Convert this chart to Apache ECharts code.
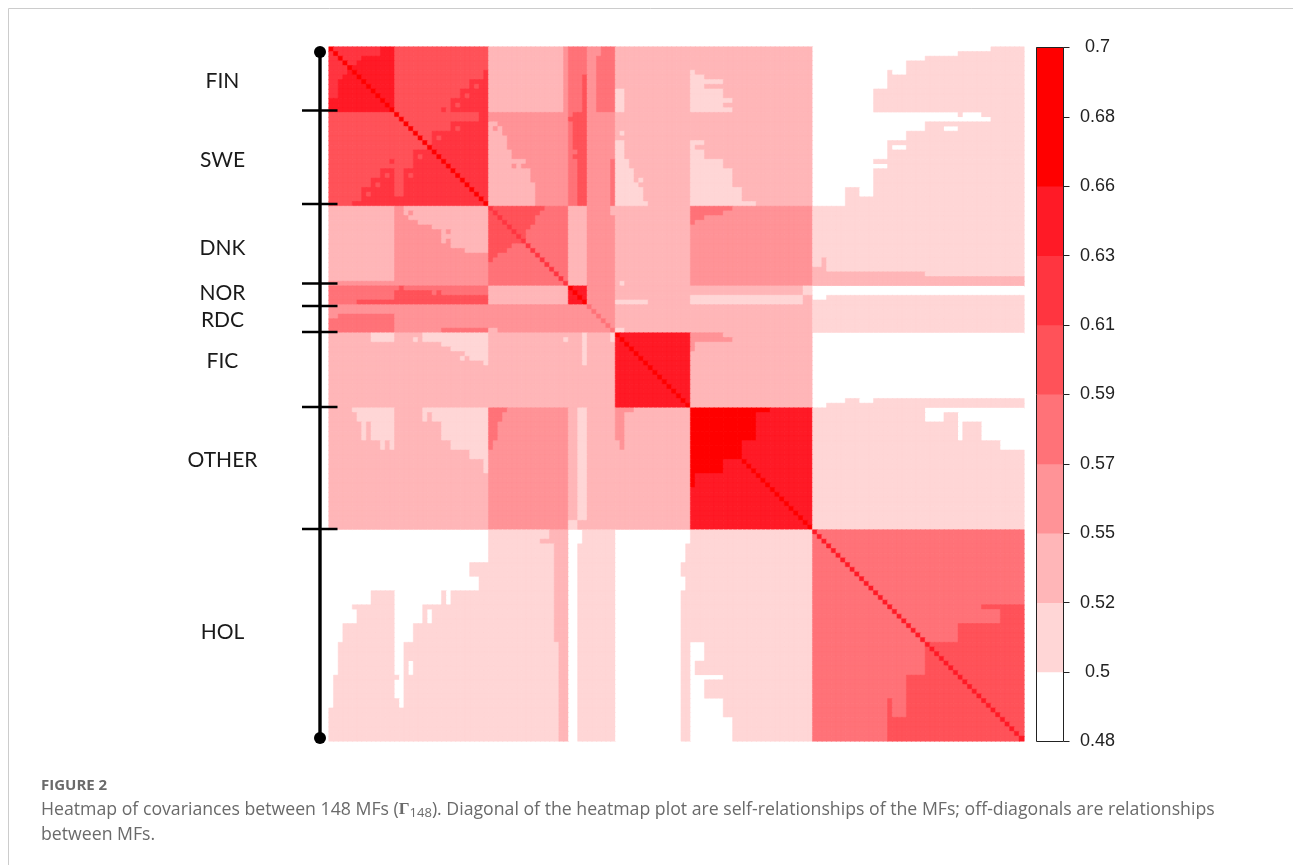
<!DOCTYPE html>
<html>
<head>
<meta charset="utf-8">
<title>Heatmap of covariances</title>
<style>html,body{margin:0;padding:0;background:#fff;}#c{width:1293px;height:865px;}</style>
<script src="https://cdn.jsdelivr.net/npm/echarts@6/dist/echarts.min.js"></script>
</head>
<body>
<div id="c"></div>
<script>
// ---- data ----
const groupNames = ['FIN','SWE','DNK','NOR','RDC','FIC','OTHER','HOL'];
const groupSizes = [14,20,17,4,6,16,26,45];
const tickLabels = ['0.48','0.5','0.52','0.55','0.57','0.59','0.61','0.63','0.66','0.68','0.7'];
const levelValues = [0.49,0.51,0.535,0.56,0.58,0.60,0.62,0.645,0.67,0.69];
const levelColors = ['#ffffff','#ffd6d6','#ffb6b8','#ff9397','#ff7278','#ff5259','#ff3540','#ff1a26','#ff0000','#ff0000'];
// colour level of every pair of groups
const groupLevels = [
 [7,5,2,4,3,2,2,0],
 [5,6,3,4,3,2,2,1],
 [2,3,4,2,3,2,3,1],
 [4,4,2,7,3,2,2,1],
 [3,3,3,3,3,2,2,1],
 [2,2,2,2,2,7,2,0],
 [2,2,3,2,2,2,7,1],
 [0,1,1,1,1,0,1,4]
];
const diagonalLevels = [9,9,6,9,4,9,9,7];
// [firstRow,lastRow,firstCol,lastCol,level], mirrored over the diagonal
const finPatches = [
 [0,0,1,10,6],[1,1,2,10,6],[2,2,3,6,6],[3,3,4,5,6],
 [5,6,33,33,6],[7,13,30,33,6],[8,8,31,31,5],[9,13,28,29,6],[10,10,29,29,5],
 [11,13,26,27,6],[12,12,27,27,5],[13,13,24,24,6],
 [0,13,50,50,3],[6,13,54,54,5],[1,13,58,60,4],[2,13,57,57,4],[0,0,58,60,4],
 [9,13,61,62,1],
 [5,5,77,77,1],[6,6,77,79,1],[7,7,77,83,1],[8,8,77,79,1],[9,10,77,83,1],
 [11,11,77,85,1],[12,12,77,83,1],[13,13,77,85,1],
 [0,0,141,147,1],[1,1,134,147,1],[2,2,127,147,1],[3,4,123,147,1],[5,5,119,119,1],
 [5,5,123,147,1],[6,8,119,147,1],[9,13,116,147,1]
];
const swePatches = [
 [14,14,15,31,5],[15,15,16,31,5],[16,16,17,25,5],[17,17,18,25,5],[17,17,27,27,5],
 [18,18,19,21,5],[19,19,20,21,5],[19,19,23,23,5],[20,20,21,21,5],
 [16,16,34,35,2],[17,17,34,34,2],[17,17,36,36,2],[18,18,34,36,2],[19,21,34,37,2],
 [22,23,34,38,2],[24,24,34,41,2],[25,25,34,38,2],[25,25,40,40,2],[26,28,34,42,2],
 [29,32,34,43,2],[33,33,34,43,2],
 [14,33,53,54,5],[14,21,52,52,5],[23,23,52,52,5],[15,15,51,51,5],
 [24,33,60,60,4],
 [18,18,62,62,1],[20,23,61,62,1],[24,25,61,63,1],[26,27,61,64,1],[28,28,61,64,1],
 [28,28,66,66,1],[29,29,61,65,1],[30,32,61,66,1],[33,33,61,67,1],
 [20,20,77,79,1],[21,21,77,77,1],[22,23,77,79,1],[24,25,77,83,1],[26,29,77,85,1],
 [30,32,77,87,1],[33,33,77,90,1],
 [14,14,103,133,0],[14,14,135,138,0],[15,15,103,140,0],
 [16,17,103,126,0],[17,17,131,133,0],[18,19,103,122,0],[20,23,103,118,0],
 [21,21,120,122,0],[24,24,103,115,0],[25,25,103,118,0],[26,29,103,115,0],
 [30,31,103,109,0],[30,31,113,115,0],[32,33,103,109,0]
];
const dnkPatches = [
 [34,34,35,45,5],[35,35,36,44,5],[36,36,37,43,5],[37,37,38,43,5],[38,38,39,42,5],
 [39,39,40,41,5],[40,40,41,41,5],
 [34,35,60,60,2],[50,50,62,62,1],
 [34,34,77,85,4],[35,35,77,83,4],[36,36,77,79,4],[37,37,77,77,4],
 [47,50,103,104,2],[45,50,105,105,2],[48,50,106,126,2],[49,50,127,147,2]
];
const norPatches = [
 [54,54,61,67,1],[53,54,77,100,1],[51,52,101,102,1],
 [51,52,103,147,0],[53,53,103,105,0]
];
const rdcPatches = [[60,60,61,62,1]];
const ficPatches = [
 [61,61,77,83,3],[62,62,77,85,3],[63,64,77,77,3],
 [76,76,106,109,1],[75,76,110,112,1],[76,76,113,115,1],[75,76,116,147,1]
];
const otherPatches = [
 [77,77,77,93,8],[78,83,77,90,8],[84,87,77,87,8],
 [77,77,127,147,0],[78,79,127,130,0],[78,79,134,147,0],[80,83,134,134,0],
 [80,83,139,147,0],[84,85,143,147,0]
];
const holPatches = [
 [119,119,139,147,5],[120,122,143,147,5],[123,126,134,147,5],[127,147,127,147,5]
];

// ---- build the matrix from the tables above ----
const patches = [].concat(finPatches,swePatches,dnkPatches,norPatches,rdcPatches,ficPatches,otherPatches,holPatches);
const N = groupSizes.reduce((a,b)=>a+b,0);
const owner = [];
groupSizes.forEach((s,g)=>{for(let i=0;i<s;i++)owner.push(g);});
const M = [];
for(let r=0;r<N;r++){M.push([]);for(let c=0;c<N;c++)M[r].push(groupLevels[owner[r]][owner[c]]);}
patches.forEach(p=>{
  for(let r=p[0];r<=p[1];r++)for(let c=p[2];c<=p[3];c++){M[r][c]=p[4];M[c][r]=p[4];}
});
for(let i=0;i<N;i++)M[i][i]=diagonalLevels[owner[i]];
const heatData=[];
for(let r=0;r<N;r++)for(let c=0;c<N;c++){
  const l=M[r][c];
  heatData.push({value:[c,r,levelValues[l]],itemStyle:{borderColor:levelColors[l],borderWidth:l===0?0:0.5}});
}
const idx=[];for(let i=0;i<N;i++)idx.push(i);
const barData=levelValues.map((v,i)=>[0,i,v]);
const pieces=levelValues.map((v,i)=>({min:parseFloat(tickLabels[i]),max:parseFloat(tickLabels[i+1]),color:levelColors[i]}));

// ---- left bracket and captions (annotation) ----
const labelY=[81,160,248,293,320,361,460,632];
const tickY=[110.5,204,283.5,306,332,407,529];
const captionFont='17.7px "Open Sans"';
const g=[];
g.push({type:'line',shape:{x1:8.5,y1:8.5,x2:1293,y2:8.5},style:{stroke:'#cccccc',lineWidth:1},silent:true});
g.push({type:'line',shape:{x1:8.5,y1:8.5,x2:8.5,y2:865},style:{stroke:'#cccccc',lineWidth:1},silent:true});
g.push({type:'line',z:10,shape:{x1:320,y1:52,x2:320,y2:738},style:{stroke:'#000',lineWidth:3.4}});
g.push({type:'circle',z:10,shape:{cx:320,cy:52,r:6},style:{fill:'#000'}});
g.push({type:'circle',z:10,shape:{cx:320,cy:738,r:6},style:{fill:'#000'}});
tickY.forEach(y=>g.push({type:'line',z:10,shape:{x1:302,y1:y,x2:337.5,y2:y},style:{stroke:'#000',lineWidth:2.4}}));
groupNames.forEach((n,i)=>g.push({type:'text',z:10,x:222.5,y:labelY[i],style:{text:n,font:'21px Lato',fill:'#1a1a1a',align:'center',verticalAlign:'middle'}}));
g.push({type:'rect',z:10,shape:{x:1036.5,y:47.5,width:27,height:694},style:{fill:'none',stroke:'#222',lineWidth:1},silent:true});
g.push({type:'text',x:41,y:786,style:{text:'FIGURE 2',font:'bold 15px "Open Sans"',fill:'#6a6a6a',align:'left',verticalAlign:'middle'}});
g.push({type:'text',x:41,y:810,style:{
  text:'Heatmap of covariances between 148 MFs ({g|Γ}{s|148}). Diagonal of the heatmap plot are self-relationships of the MFs; off-diagonals are relationships',
  font:captionFont,fill:'#6a6a6a',align:'left',verticalAlign:'middle',
  rich:{g:{font:'bold 17px "Liberation Serif"',fill:'#6a6a6a'},s:{font:'13px "Open Sans"',fill:'#6a6a6a',verticalAlign:'bottom',padding:[6,0,0,0]}}
}});
g.push({type:'text',x:41,y:835,style:{text:'between MFs.',font:captionFont,fill:'#6a6a6a',align:'left',verticalAlign:'middle'}});

const chart=echarts.init(document.getElementById('c'),null,{renderer:'canvas'});
chart.setOption({
  animation:false,
  backgroundColor:'#ffffff',
  grid:[
    {left:329,top:47,width:695,height:694,show:false},
    {left:1036.5,top:47.5,width:27,height:694,show:false}
  ],
  xAxis:[
    {type:'category',data:idx,gridIndex:0,show:false},
    {type:'category',data:[0],gridIndex:1,show:false}
  ],
  yAxis:[
    {type:'category',data:idx,gridIndex:0,inverse:true,show:false},
    {type:'category',data:levelValues.map((v,i)=>i),gridIndex:1,show:false},
    {type:'value',gridIndex:1,position:'right',min:0,max:10,interval:1,
     axisLine:{show:false},splitLine:{show:false},
     axisTick:{show:true,length:6,lineStyle:{color:'#222',width:1}},
     axisLabel:{margin:34,align:'center',color:'#222',fontSize:18,fontFamily:'Liberation Sans',padding:[5,0,0,0],
       formatter:v=>tickLabels[Math.round(v)]}}
  ],
  visualMap:{show:false,type:'piecewise',seriesIndex:[0,1],pieces:pieces,dimension:2},
  series:[
    {type:'heatmap',xAxisIndex:0,yAxisIndex:0,data:heatData,progressive:0,silent:true},
    {type:'heatmap',xAxisIndex:1,yAxisIndex:1,data:barData,progressive:0,silent:true,itemStyle:{borderWidth:0}}
  ],
  graphic:{elements:g}
});
</script>
</body>
</html>
